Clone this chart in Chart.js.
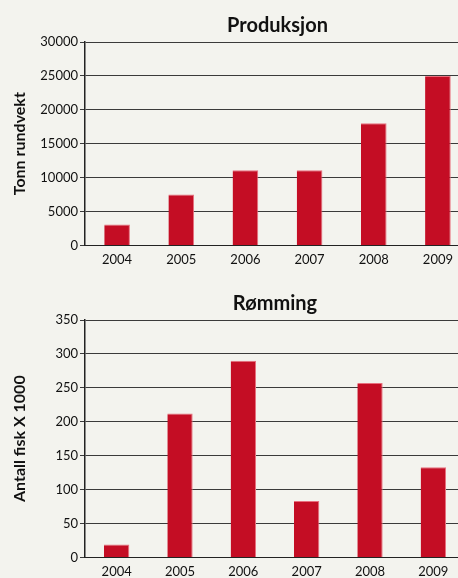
<!DOCTYPE html>
<html>
<head>
<meta charset="utf-8">
<script src="https://cdn.jsdelivr.net/npm/chart.js@4.4.0/dist/chart.umd.min.js"></script>
<style>
  html, body { margin: 0; padding: 0; background: #f3f3ee; overflow: hidden; width: 458px; height: 578px; }
  .box { position: absolute; left: 0; overflow: hidden; }
  #top { top: 0; width: 470px; height: 275px; }
  #bot { top: 285px; width: 465px; height: 302px; }
</style>
</head>
<body>
<div class="box" id="top"><canvas id="produksjon" width="470" height="275"></canvas></div>
<div class="box" id="bot"><canvas id="romming" width="465" height="302"></canvas></div>
<script>
const years = ['2004', '2005', '2006', '2007', '2008', '2009'];
const produksjon = [3100, 7500, 11100, 11100, 18000, 25000];
const romming = [19, 212, 290, 83, 257, 133];

const red = '#c40d24';
const font = "'Lato', 'Open Sans', sans-serif";

function makeChart(id, title, yTitle, values, max, step, padTop) {
    const ctx = document.getElementById(id).getContext('2d');
    return new Chart(ctx, {
        type: 'bar',
        data: {
            labels: years,
            datasets: [{
                data: values,
                backgroundColor: red,
                borderColor: '#e8707e',
                borderWidth: {top: 1, right: 1, left: 0, bottom: 0},
                borderSkipped: 'bottom',
                barPercentage: 0.4,
                categoryPercentage: 1
            }]
        },
        options: {
            responsive: false,
            animation: false,
            layout: {padding: {top: padTop, right: 0, bottom: 0, left: 0}},
            plugins: {
                legend: {display: false},
                tooltip: {enabled: false},
                title: {
                    display: true,
                    fullSize: false,
                    text: title,
                    color: '#111',
                    font: {family: font, size: 20, weight: 'bold'},
                    padding: {top: 0, bottom: 4},
                    align: 'center'
                }
            },
            scales: {
                x: {
                    grid: {display: false, drawTicks: false},
                    border: {color: '#222', width: 1},
                    ticks: {color: '#111', font: {family: font, size: 13}, padding: 7}
                },
                y: {
                    min: 0,
                    max: max,
                    afterFit: (scale) => { scale.width = 85; },
                    grid: {color: '#3a3a3a', lineWidth: 1, tickLength: 5, drawTicks: true},
                    border: {color: '#222', width: 1.5},
                    ticks: {
                        stepSize: step,
                        color: '#111',
                        font: {family: font, size: 13},
                        padding: 2,
                        callback: (v) => String(v)
                    },
                    title: {
                        display: true,
                        text: yTitle,
                        color: '#111',
                        font: {family: font, size: 16, weight: 'bold'},
                        padding: {top: 10, bottom: 4}
                    }
                }
            }
        }
    });
}

makeChart('produksjon', 'Produksjon', 'Tonn rundvekt', produksjon, 30000, 5000, 14);
makeChart('romming', 'Rømming', 'Antall fisk X 1000', romming, 350, 50, 7);
</script>
</body>
</html>
